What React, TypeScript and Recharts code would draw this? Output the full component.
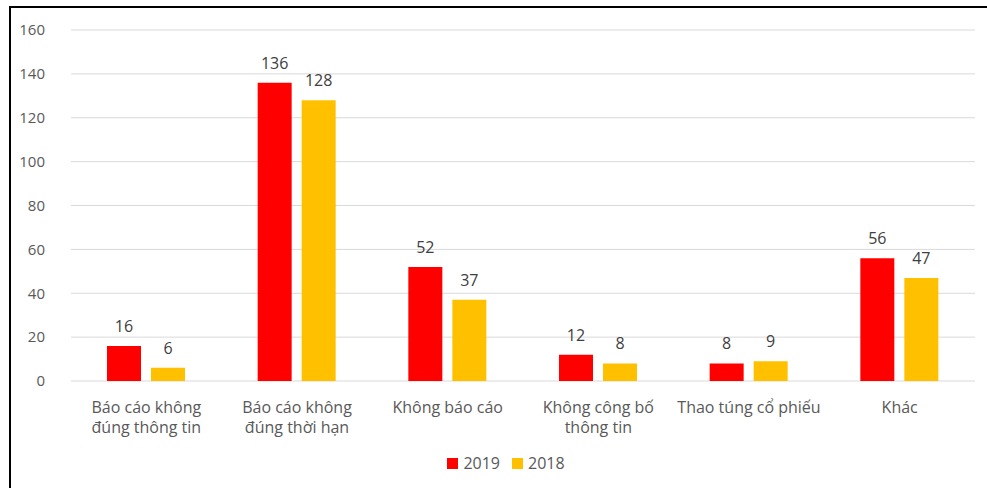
import { BarChart, Bar, XAxis, YAxis, CartesianGrid, Legend, LabelList } from "recharts";

const categories = [
  "Báo cáo không\nđúng thông tin",
  "Báo cáo không\nđúng thời hạn",
  "Không báo cáo",
  "Không công bố\nthông tin",
  "Thao túng cổ phiếu",
  "Khác",
];
const values2019 = [16, 136, 52, 12, 8, 56];
const values2018 = [6, 128, 37, 8, 9, 47];
const yTicks = [0, 20, 40, 60, 80, 100, 120, 140, 160];
const seriesOrder = ["2019", "2018"];

const data = categories.map((name, i) => ({
  name,
  y2019: values2019[i],
  y2018: values2018[i],
}));

const FONT = "'Open Sans', sans-serif";
const TEXT = "#595959";

function CategoryTick({ x, y, payload }: any) {
  const lines = String(payload.value).split("\n");
  return (
    <text x={x} y={y + 24} textAnchor="middle" fill={TEXT} fontSize={16} fontFamily={FONT}>
      {lines.map((line, i) => (
        <tspan key={i} x={x} dy={i === 0 ? 0 : 20}>
          {line}
        </tspan>
      ))}
    </text>
  );
}

function LegendBox({ payload }: any) {
  const items = [...payload].sort(
    (a: any, b: any) => seriesOrder.indexOf(a.value) - seriesOrder.indexOf(b.value)
  );
  return (
    <div
      style={{
        display: "flex",
        justifyContent: "center",
        alignItems: "center",
        height: 30,
        paddingLeft: 28,
        fontFamily: FONT,
        fontSize: 16,
        color: TEXT,
      }}
    >
      {items.map((p: any) => (
        <div key={p.value} style={{ display: "flex", alignItems: "center", marginRight: 12 }}>
          <span style={{ width: 11, height: 11, background: p.color, marginRight: 5 }} />
          <span>{p.value}</span>
        </div>
      ))}
    </div>
  );
}

export default function App() {
  return (
    <div
      style={{
        position: "absolute",
        left: 9,
        top: 6,
        width: 990,
        height: 490,
        borderLeft: "2px solid #000",
        borderTop: "2px solid #000",
        background: "#fff",
      }}
    >
      <BarChart
        width={976}
        height={480}
        data={data}
        barSize={34}
        barGap={10}
        margin={{ top: 22, right: 12, bottom: 10, left: 10 }}
      >
        <CartesianGrid vertical={false} stroke="#d9d9d9" />
        <XAxis
          dataKey="name"
          axisLine={false}
          tickLine={false}
          height={67}
          interval={0}
          tick={<CategoryTick />}
        />
        <YAxis
          width={50}
          domain={[0, 160]}
          ticks={yTicks}
          axisLine={false}
          tickLine={false}
          tickSize={0}
          tickMargin={19}
          tick={{ fill: TEXT, fontSize: 15, fontFamily: FONT, dx: -7 }}
        />
        <Legend verticalAlign="bottom" height={30} content={<LegendBox />} />
        <Bar dataKey="y2019" name="2019" fill="#ff0000" isAnimationActive={false}>
          <LabelList dataKey="y2019" position="top" offset={14} fill="#404040" fontSize={16} fontFamily={FONT} />
        </Bar>
        <Bar dataKey="y2018" name="2018" fill="#ffc000" isAnimationActive={false}>
          <LabelList dataKey="y2018" position="top" offset={14} fill="#404040" fontSize={16} fontFamily={FONT} />
        </Bar>
      </BarChart>
    </div>
  );
}
